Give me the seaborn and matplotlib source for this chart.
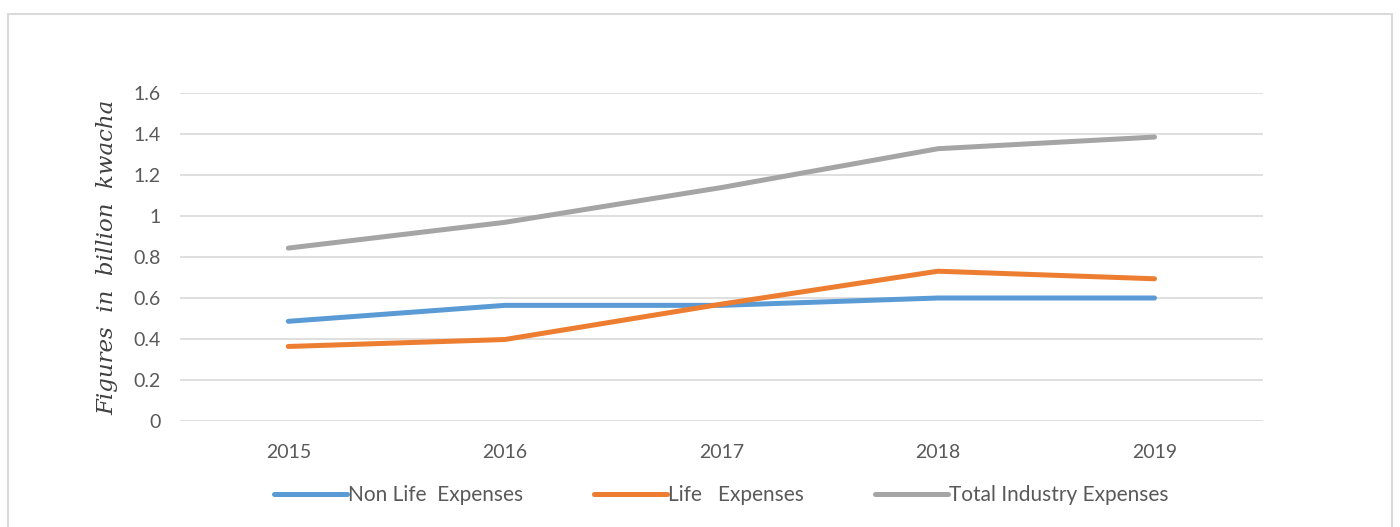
import pandas as pd
import seaborn as sb
import matplotlib.pyplot as plt
from matplotlib.patches import Rectangle

# Valores (bilhões de kwacha)
anos = ['2015', '2016', '2017', '2018', '2019']
non_life = [0.486, 0.564, 0.564, 0.600, 0.600]
life = [0.363, 0.397, 0.570, 0.731, 0.694]
total = [0.844, 0.970, 1.140, 1.330, 1.387]
series = ['Non Life  Expenses', 'Life   Expenses', 'Total Industry Expenses']
cores = ['#5b9bd5', '#ed7d31', '#a5a5a5']

df = pd.DataFrame({
    'ano': anos * 3,
    'valor': non_life + life + total,
    'serie': [s for s in series for _ in anos],
})

sb.set_style('white')
plt.rcParams['font.family'] = ['Lato', 'DejaVu Sans']

fig = plt.figure(figsize=(14, 5.27), dpi=100)
ax = fig.add_axes([0.1286, 0.2017, 0.7734, 0.6209])

sb.lineplot(data=df, x='ano', y='valor', hue='serie', palette=cores,
            linewidth=3.6, sort=False, ax=ax, solid_capstyle='round')

ax.set_xlim(-0.5, 4.5)
ax.set_ylim(0, 1.6)
ax.set_yticks([0, 0.2, 0.4, 0.6, 0.8, 1.0, 1.2, 1.4, 1.6])
ax.set_yticklabels(['0', '0.2', '0.4', '0.6', '0.8', '1', '1.2', '1.4', '1.6'])
ax.grid(axis='y', color='#d9d9d9', linewidth=1.2)
ax.set_axisbelow(True)
for s in ax.spines.values():
    s.set_visible(False)
ax.tick_params(axis='both', length=0, labelsize=14, labelcolor='#595959', pad=14)
ax.tick_params(axis='x', pad=17)
ax.set_xlabel('')
ax.set_ylabel('Figures  in  billion  kwacha', family='DejaVu Serif', style='italic',
              fontsize=16.5, color='#404040', labelpad=11)

ax.legend(loc='upper center', bbox_to_anchor=(0.5, -0.14), ncol=3, frameon=False,
          fontsize=15, handlelength=3.5, handletextpad=0.05, columnspacing=3.4,
          labelcolor='#595959')

fig.patches.append(Rectangle((0.006, -0.01), 0.988, 0.984, transform=fig.transFigure,
                             fill=False, edgecolor='#d9d9d9', linewidth=1.5))

fig.savefig('out.png', dpi=100)
